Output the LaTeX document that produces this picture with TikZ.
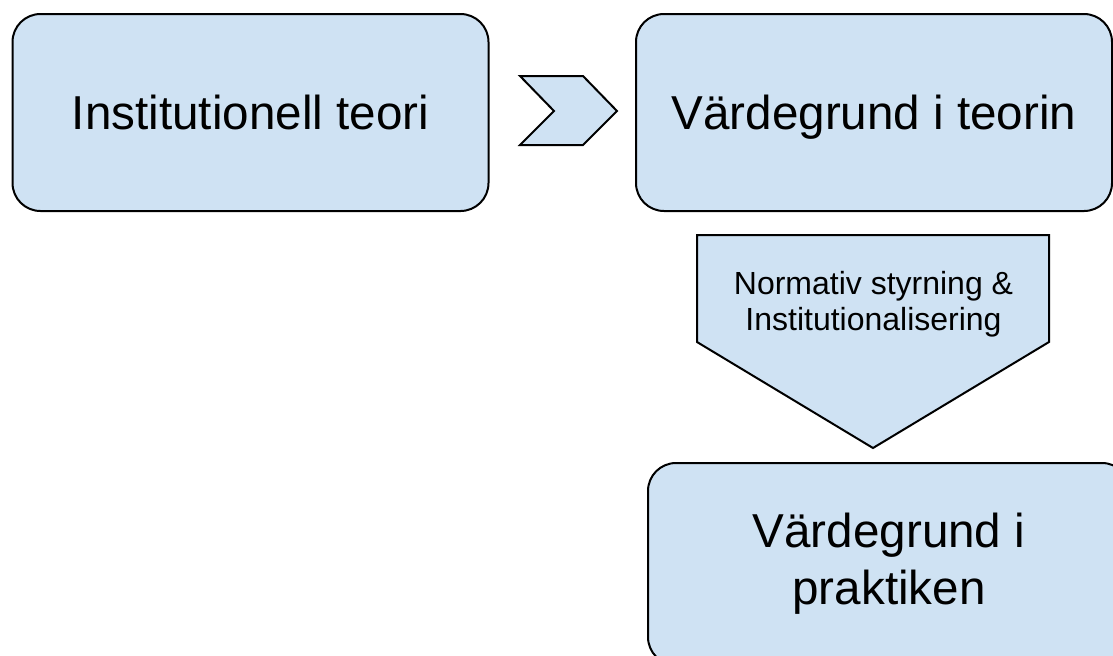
\documentclass[tikz,border=0pt]{standalone}
\usepackage{fontspec}
\setmainfont{Liberation Sans}
\definecolor{paleblue}{HTML}{CFE2F3}

\begin{document}
\begin{tikzpicture}[x=0.5pt,y=-0.5pt]
    \tikzstyle{box}=[draw=black,line width=1pt,fill=paleblue,rounded corners=14pt,
        minimum width=238pt,minimum height=98.5pt,inner sep=0pt,align=center,
        font=\fontsize{23.8}{28.5}\selectfont]
    \tikzstyle{arrowshape}=[draw=black,line width=1pt,fill=paleblue,line join=miter]
    \tikzstyle{note}=[inner sep=0pt,align=center,font=\fontsize{16}{18}\selectfont]

    \useasboundingbox (0,0) rectangle (1113,655);

    % chevron between the two upper boxes
    \draw[arrowshape] (520,76) -- (583,76) -- (617,111) -- (583,145) -- (520,145) -- (554,111) -- cycle;

    % downward arrow
    \draw[arrowshape] (697,235) -- (1049,235) -- (1049,342) -- (873,448) -- (697,342) -- cycle;

    \node[box,text height=17pt,text depth=0pt] (teori)  at (250.5,112.5) {Institutionell teori};
    \node[box,text height=17pt,text depth=0pt] (vteori) at (874,112.5)   {Värdegrund i teorin};
    \node[box,minimum width=241pt,minimum height=101pt] (vprakt) at (889,564) {Värdegrund i\\praktiken};

    \node[note] (styr) at (873.5,304) {Normativ styrning \&\\Institutionalisering};
\end{tikzpicture}
\end{document}
